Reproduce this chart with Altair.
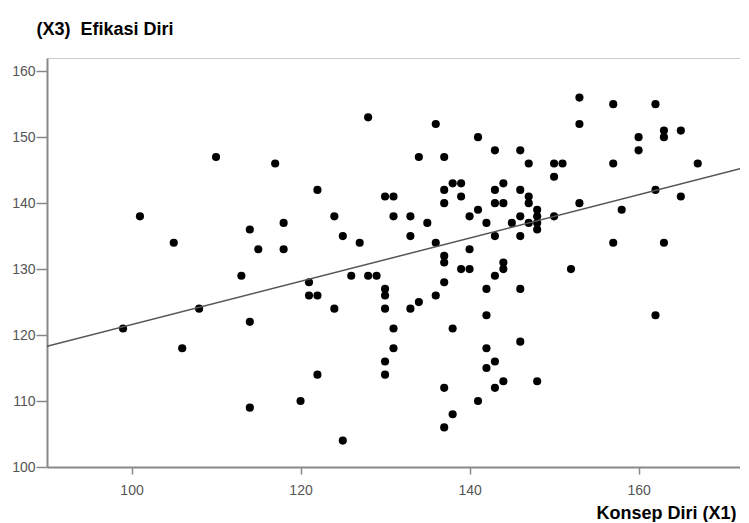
import altair as alt
import pandas as pd

# Konsep Diri (X1)
konsep_diri = [
    99, 101, 105, 106, 108, 110, 113, 114, 114, 114, 115, 117, 118, 118, 120,
    121, 121, 122, 122, 122, 124, 124, 125, 125, 126, 127, 128, 128, 129,
    130, 131, 130, 130, 130, 130, 130, 131, 131, 131, 133, 133, 133, 134, 134,
    135, 136, 136, 136, 137, 137, 137, 137, 137, 137, 137, 137, 138, 139, 139,
    138, 138, 139, 140, 140, 140, 141, 141, 141, 142, 142, 142, 142, 142,
    143, 143, 143, 143, 143, 143, 143, 144, 144, 144, 144, 144, 145,
    146, 146, 146, 146, 146, 146, 147, 147, 147, 147, 148, 148, 148, 148, 148,
    150, 151, 150, 150, 152, 153, 153, 153, 157, 157, 157, 158, 160, 160,
    162, 162, 162, 163, 163, 163, 165, 165, 167,
]
# Efikasi Diri (X3)
efikasi_diri = [
    121, 138, 134, 118, 124, 147, 129, 136, 122, 109, 133, 146, 137, 133, 110,
    128, 126, 126, 142, 114, 138, 124, 135, 104, 129, 134, 153, 129, 129,
    141, 141, 127, 126, 124, 116, 114, 138, 121, 118, 138, 135, 124, 147, 125,
    137, 152, 134, 126, 147, 142, 140, 132, 131, 128, 112, 106, 143, 143, 141,
    121, 108, 130, 130, 138, 133, 150, 139, 110, 137, 127, 123, 118, 115,
    148, 142, 140, 135, 129, 116, 112, 143, 140, 131, 130, 113, 137,
    148, 142, 138, 135, 127, 119, 146, 141, 140, 137, 139, 138, 137, 136, 113,
    146, 146, 144, 138, 130, 156, 152, 140, 155, 146, 134, 139, 150, 148,
    155, 142, 123, 151, 150, 134, 151, 141, 146,
]

# fitted (linear) line: endpoints in data units
fit_x = [90, 172]
fit_y = [118.3, 145.2]

x_ticks = [100, 120, 140, 160]
y_ticks = [100, 110, 120, 130, 140, 150, 160]
x_domain = [90, 172]
y_domain = [100, 162]

df = pd.DataFrame({"x": konsep_diri, "y": efikasi_diri})
fit_df = pd.DataFrame({"x": fit_x, "y": fit_y})

xs = alt.Scale(domain=x_domain, nice=False, zero=False)
ys = alt.Scale(domain=y_domain, nice=False, zero=False)

points = alt.Chart(df).mark_circle(size=66, color="black", opacity=1).encode(
    x=alt.X(
        "x:Q", scale=xs,
        axis=alt.Axis(
            values=x_ticks, title="Konsep Diri (X1)", grid=False,
            titleAngle=0, titleAlign="right", titleBaseline="middle",
            titleX=689, titleY=46, tickSize=7,
        ),
    ),
    y=alt.Y(
        "y:Q", scale=ys,
        axis=alt.Axis(
            values=y_ticks, title="(X3) \u00a0Efikasi Diri", grid=False,
            titleAngle=0, titleAlign="left", titleBaseline="middle",
            titleX=-11, titleY=-29, tickSize=11,
        ),
    ),
)

line = alt.Chart(fit_df).mark_line(color="#555555", strokeWidth=1.5, clip=True).encode(
    x=alt.X(
        "x:Q", scale=xs,
        axis=alt.Axis(
            orient="top", labels=False, ticks=False, title=None, grid=False,
            domainColor="#cccccc", domainWidth=1,
        ),
    ),
    y=alt.Y("y:Q", scale=ys),
)

chart = (
    alt.layer(points, line)
    .resolve_axis(x="independent")
    .properties(
        width=693, height=409, background="white",
        padding={"left": 3, "top": 12, "right": 0, "bottom": 0},
    )
    .configure_view(stroke="transparent")
    .configure_axis(
        labelFont="Liberation Sans", labelFontSize=14, labelColor="#555555",
        titleFont="Liberation Sans", titleFontSize=18, titleFontWeight="bold",
        titleColor="black", domainColor="#888888", domainWidth=2,
        tickColor="#888888", tickWidth=1.5, labelPadding=1,
    )
    .configure_axisX(labelPadding=9)
)

chart.save("out.html", embed_options={"renderer": "svg", "actions": False})
